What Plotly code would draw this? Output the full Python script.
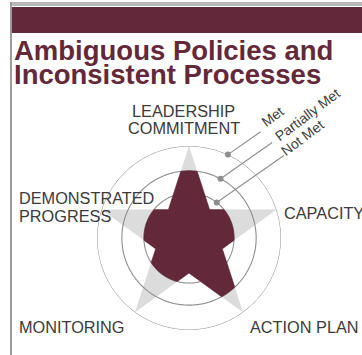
import numpy as np
import plotly.graph_objects as go

# ---- data -------------------------------------------------------------
categories = ["LEADERSHIP COMMITMENT", "CAPACITY", "ACTION PLAN",
              "MONITORING", "DEMONSTRATED PROGRESS"]
scores = [2, 1, 2, 1, 1]                 # 1 = Not Met, 2 = Partially Met, 3 = Met
levels = ["Not Met", "Partially Met", "Met"]
level_radius = [0.49, 0.73, 1.0]         # ring position of each level (outer ring = Met)
title_lines = ["Ambiguous Policies and", "Inconsistent Processes"]

# ---- look -------------------------------------------------------------
W, H = 362, 355
CX, CY, R = 189, 238, 92                 # polar centre / radius in pixels
MAROON = "#63293a"
STAR_GREY = "#dcdcdc"
RING = "#8e8e8e"
TEXT = "#3b3b3b"
FONT = "Liberation Sans, Arial, sans-serif"
INNER = 0.382                            # inner vertex ratio of a regular star


def px(x):
    return x / W


def py(y):
    return 1 - y / H


def star_outline(n=120):
    """Sample the outline of a regular 5-point star; return r, theta, arm index."""
    tips = [72 * k for k in range(5)]
    rs, ths, arms = [], [], []
    for k, t in enumerate(tips):
        verts = [(INNER, t - 36), (1.0, t), (INNER, t + 36)]
        for (r0, a0), (r1, a1) in zip(verts[:-1], verts[1:]):
            x0, y0 = r0 * np.sin(np.radians(a0)), r0 * np.cos(np.radians(a0))
            x1, y1 = r1 * np.sin(np.radians(a1)), r1 * np.cos(np.radians(a1))
            s = np.linspace(0, 1, n, endpoint=False)
            xs, ys = x0 + (x1 - x0) * s, y0 + (y1 - y0) * s
            rs.extend(np.hypot(xs, ys))
            ths.extend(np.degrees(np.arctan2(xs, ys)) % 360)
            arms.extend([k] * n)
    rs.append(rs[0]); ths.append(ths[0]); arms.append(arms[0])
    return np.array(rs), np.array(ths), np.array(arms)


star_r, star_t, star_arm = star_outline()
cap = np.array([level_radius[s - 1] for s in scores])[star_arm]
score_r = np.minimum(star_r, cap)

fig = go.Figure()

# reference star (full "Met" on every axis)
fig.add_trace(go.Scatterpolar(
    r=star_r, theta=star_t, mode="lines", fill="toself",
    fillcolor=STAR_GREY, line=dict(color=STAR_GREY, width=0),
    hoverinfo="skip",
))

# rings
ring_theta = np.linspace(0, 360, 361)
for rr in level_radius:
    fig.add_trace(go.Scatterpolar(
        r=[rr] * len(ring_theta), theta=ring_theta, mode="lines",
        line=dict(color=RING, width=1.1), hoverinfo="skip",
    ))

# assessed star
fig.add_trace(go.Scatterpolar(
    r=score_r, theta=star_t, mode="lines", fill="toself",
    fillcolor=MAROON, line=dict(color=MAROON, width=0.5),
    hoverinfo="skip",
))

# legend leaders: dot on each ring + line up to the rotated label
dot_theta = [38, 28, 25]
leader_len = [82, 63, 40]
label_pos = [(302, 138), (307, 115), (272, 117)]
shapes = []
annotations = []
fig.add_trace(go.Scatterpolar(
    r=level_radius, theta=dot_theta, mode="markers",
    marker=dict(color=RING, size=6), hoverinfo="skip",
))
for rr, th, ln, (lx, ly), name in zip(level_radius, dot_theta, leader_len, label_pos, levels):
    x0 = CX + R * rr * np.sin(np.radians(th))
    y0 = CY - R * rr * np.cos(np.radians(th))
    x1 = x0 + ln * np.cos(np.radians(35))
    y1 = y0 - ln * np.sin(np.radians(35))
    shapes.append(dict(type="line", xref="paper", yref="paper",
                       x0=px(x0), y0=py(y0), x1=px(x1), y1=py(y1),
                       line=dict(color=RING, width=1.1)))
    annotations.append(dict(text=name, x=px(lx), y=py(ly), xref="paper", yref="paper",
                            xanchor="center", yanchor="middle",
                            showarrow=False, textangle=-37,
                            font=dict(family=FONT, size=14, color=TEXT)))

# frame and header bar
shapes += [
    dict(type="rect", xref="paper", yref="paper", x0=px(10), x1=1, y0=py(6), y1=py(2),
         fillcolor="#b9b9b9", line=dict(width=0), layer="below"),
    dict(type="rect", xref="paper", yref="paper", x0=px(12), x1=1, y0=py(33), y1=py(7),
         fillcolor=MAROON, line=dict(width=0), layer="below"),
    dict(type="rect", xref="paper", yref="paper", x0=px(10), x1=px(12), y0=0, y1=py(2),
         fillcolor="#9c9c9c", line=dict(width=0), layer="below"),
]

# title
for line, y in zip(title_lines, [50, 75]):
    annotations.append(dict(text=f"<b>{line}</b>", x=px(12), y=py(y), xref="paper", yref="paper",
                            xanchor="left", yanchor="middle", showarrow=False,
                            font=dict(family=FONT, size=27.5, color=MAROON)))

# axis labels
label_lines = [
    ("LEADERSHIP", 183, 111, "center"),
    ("COMMITMENT", 184, 128, "center"),
    ("CAPACITY", 282, 213, "left"),
    ("ACTION PLAN", 248, 327, "left"),
    ("MONITORING", 17, 327, "left"),
    ("DEMONSTRATED", 17, 198, "left"),
    ("PROGRESS", 17, 216, "left"),
]
for txt, x, y, anchor in label_lines:
    annotations.append(dict(text=txt, x=px(x), y=py(y), xref="paper", yref="paper",
                            xanchor=anchor, yanchor="middle", showarrow=False,
                            font=dict(family=FONT, size=16.3, color=TEXT)))

fig.update_layout(
    width=W, height=H,
    margin=dict(l=0, r=0, t=0, b=0),
    paper_bgcolor="white",
    showlegend=False,
    polar=dict(
        domain=dict(x=[px(CX - R), px(CX + R)], y=[py(CY + R), py(CY - R)]),
        bgcolor="rgba(0,0,0,0)",
        radialaxis=dict(range=[0, 1], showline=False, showgrid=False,
                        showticklabels=False, ticks=""),
        angularaxis=dict(direction="clockwise", rotation=90, showline=False,
                         showgrid=False, showticklabels=False, ticks=""),
    ),
    shapes=shapes,
    annotations=annotations,
)

# drop the browser's default 8px page margin so the figure sits at the window origin
fig.write_html("out.html",
               config={"displayModeBar": False},
               post_script="document.body.style.margin='0';document.body.style.overflow='hidden';")
